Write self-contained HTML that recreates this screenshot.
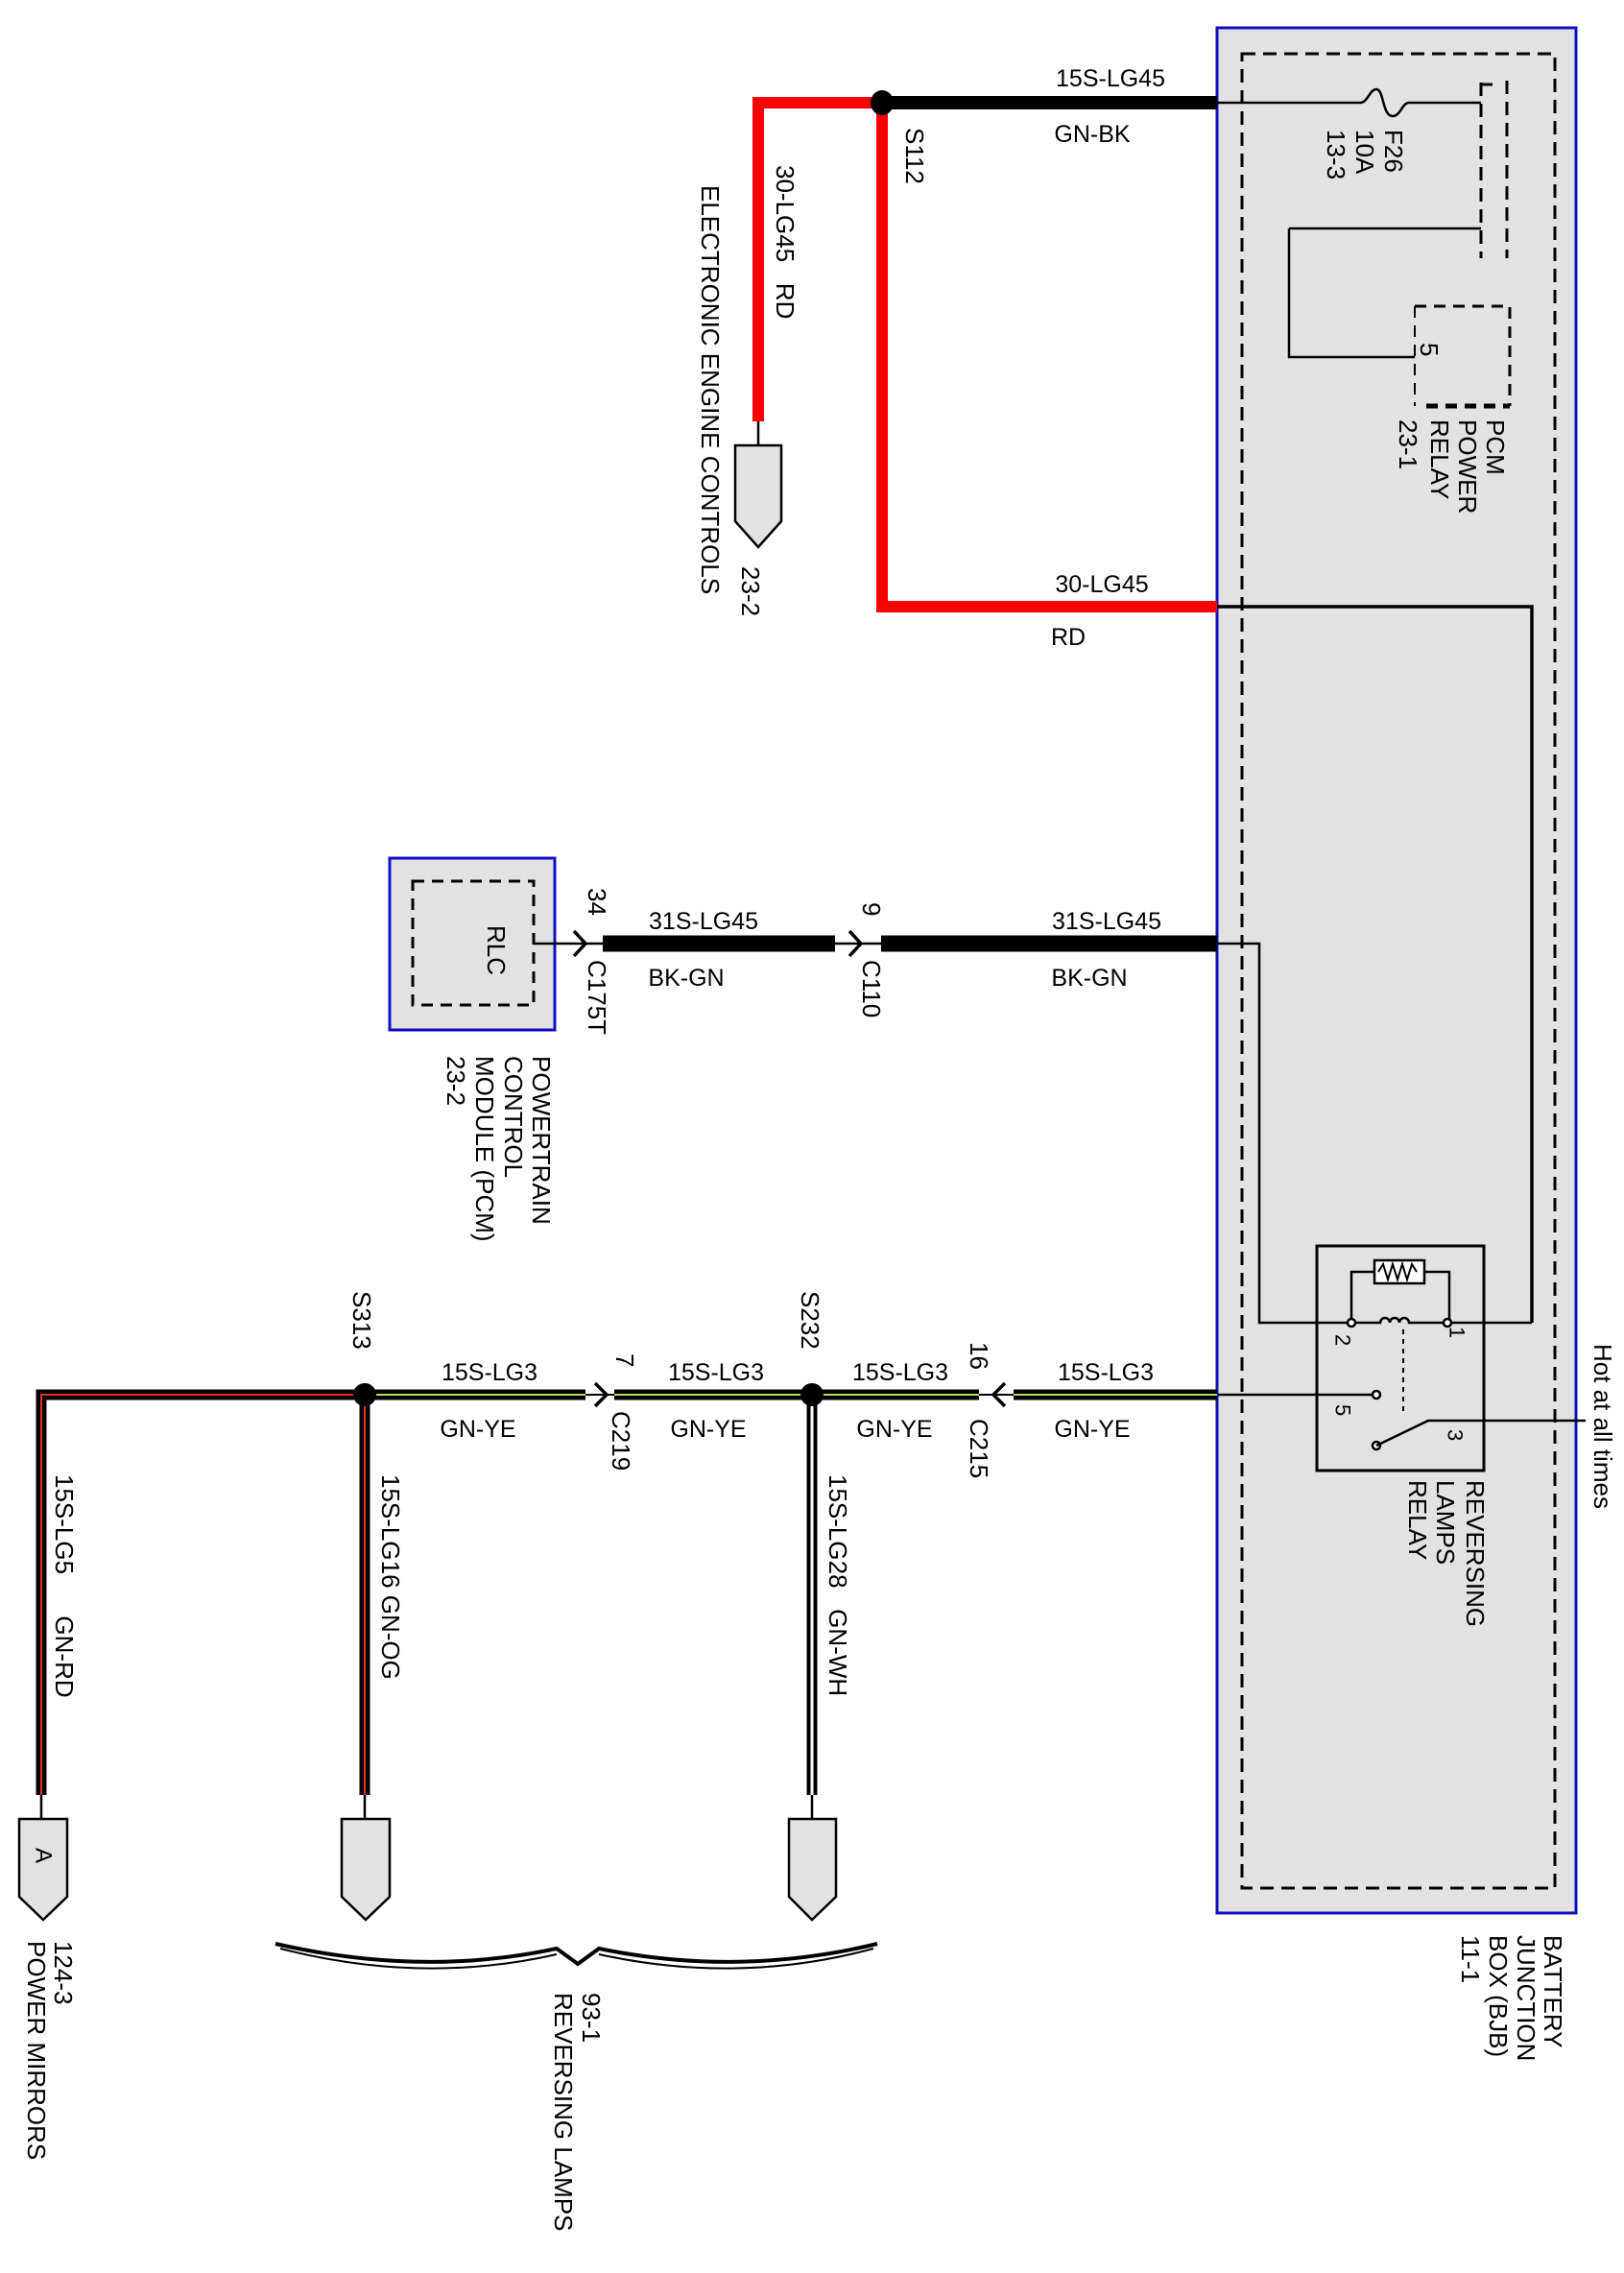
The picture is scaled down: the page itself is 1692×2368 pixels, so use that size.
<!DOCTYPE html>
<html><head><meta charset="utf-8"><style>
html,body{margin:0;padding:0;background:#fff;}
svg{display:block;}
text{font-family:"Liberation Sans",sans-serif;fill:#000;}
.w{font-size:25px;}
.v{font-size:26px;}
</style></head><body>
<svg width="1692" height="2368" viewBox="0 0 1692 2368" xmlns="http://www.w3.org/2000/svg">
<!-- BJB box -->
<rect x="1268" y="29" width="374" height="1964" fill="#e2e2e2" stroke="#1010c0" stroke-width="3"/>
<rect x="1294" y="56" width="326" height="1911" fill="none" stroke="#000" stroke-width="3" stroke-dasharray="14 8"/>

<!-- top wire GN-BK -->
<line x1="928" y1="107" x2="1268" y2="107" stroke="#000" stroke-width="14"/>
<path d="M1268 107 H1417 M1468 107 H1543" stroke="#000" stroke-width="2.5" fill="none"/>
<path d="M1417 107 c8 0 10 -14 17 -14 c8 0 6 28 17 28 c8 0 10 -14 17 -14" stroke="#000" stroke-width="2.5" fill="none"/>
<path d="M1543 86 V269 M1543 88 h12" stroke="#000" stroke-width="3" stroke-dasharray="14 8" fill="none"/>
<line x1="1570" y1="84" x2="1570" y2="269" stroke="#000" stroke-width="3" stroke-dasharray="14 8"/>
<line x1="1543" y1="238" x2="1343" y2="238" stroke="#000" stroke-width="2.5"/>
<path d="M1343 238 V372 H1474" stroke="#000" stroke-width="2.5" fill="none"/>
<!-- PCM power relay dashed -->
<path d="M1474 319 H1573 V423" stroke="#000" stroke-width="3" stroke-dasharray="12 8" fill="none"/>
<path d="M1474 319 V423" stroke="#000" stroke-width="2" stroke-dasharray="12 8" fill="none"/>
<path d="M1486 423 H1573" stroke="#000" stroke-width="5" stroke-dasharray="12 8" fill="none"/>

<!-- red wires -->
<path d="M912 107 H790 V439" stroke="#ff0000" stroke-width="12" fill="none"/>
<path d="M919 118 V632 H1268" stroke="#ff0000" stroke-width="12" fill="none"/>
<line x1="790" y1="439" x2="790" y2="464" stroke="#000" stroke-width="2.5"/>
<path d="M766 464 H814 V543 L790 570 L766 543 Z" fill="#e2e2e2" stroke="#000" stroke-width="2.5"/>
<ellipse cx="919" cy="107" rx="12" ry="13" fill="#000"/>
<path d="M1268 632 H1596 V1378" stroke="#000" stroke-width="3.5" fill="none"/>

<!-- labels top -->
<text class="w" x="1157" y="90" text-anchor="middle">15S-LG45</text>
<text class="w" x="1138" y="148" text-anchor="middle">GN-BK</text>
<text class="w" x="1148" y="617" text-anchor="middle">30-LG45</text>
<text class="w" x="1113" y="672" text-anchor="middle">RD</text>
<text class="v" transform="translate(953,133) rotate(90)" dominant-baseline="central">S112</text>
<text class="v" transform="translate(818,172) rotate(90)" dominant-baseline="central">30-LG45&#160;&#160;&#160;RD</text>
<text class="v" transform="translate(740,193) rotate(90)" dominant-baseline="central">ELECTRONIC ENGINE CONTROLS</text>
<text class="v" transform="translate(782,590) rotate(90)" dominant-baseline="central">23-2</text>
<text class="v" transform="translate(1452,135) rotate(90)" dominant-baseline="central">F26</text>
<text class="v" transform="translate(1422,135) rotate(90)" dominant-baseline="central">10A</text>
<text class="v" transform="translate(1392,135) rotate(90)" dominant-baseline="central">13-3</text>
<text class="v" transform="translate(1489,357) rotate(90)" dominant-baseline="central">5</text>
<text class="v" transform="translate(1558,437) rotate(90)" dominant-baseline="central">PCM</text>
<text class="v" transform="translate(1529,437) rotate(90)" dominant-baseline="central">POWER</text>
<text class="v" transform="translate(1500,437) rotate(90)" dominant-baseline="central">RELAY</text>
<text class="v" transform="translate(1467,437) rotate(90)" dominant-baseline="central">23-1</text>

<!-- PCM module -->
<rect x="406" y="894" width="172" height="179" fill="#e2e2e2" stroke="#1010c0" stroke-width="3"/>
<rect x="430" y="918" width="126" height="129" fill="none" stroke="#000" stroke-width="3" stroke-dasharray="12 8"/>
<text class="v" transform="translate(517,964) rotate(90)" dominant-baseline="central">RLC</text>
<line x1="556" y1="983" x2="628" y2="983" stroke="#000" stroke-width="2.5"/>
<line x1="870" y1="983" x2="918" y2="983" stroke="#000" stroke-width="2.5"/>
<line x1="628" y1="983" x2="870" y2="983" stroke="#000" stroke-width="17"/>
<line x1="918" y1="983" x2="1268" y2="983" stroke="#000" stroke-width="17"/>
<path d="M598 970 L610 983 L598 996" stroke="#000" stroke-width="3.5" fill="none"/>
<path d="M885 970 L897 983 L885 996" stroke="#000" stroke-width="3.5" fill="none"/>
<path d="M1268 983 H1312 V1378 H1408" stroke="#000" stroke-width="2.5" fill="none"/>
<text class="w" x="733" y="968" text-anchor="middle">31S-LG45</text>
<text class="w" x="715" y="1027" text-anchor="middle">BK-GN</text>
<text class="w" x="1153" y="968" text-anchor="middle">31S-LG45</text>
<text class="w" x="1135" y="1027" text-anchor="middle">BK-GN</text>
<text class="v" transform="translate(622,925) rotate(90)" dominant-baseline="central">34</text>
<text class="v" transform="translate(622,1000) rotate(90)" dominant-baseline="central">C175T</text>
<text class="v" transform="translate(908,940) rotate(90)" dominant-baseline="central">9</text>
<text class="v" transform="translate(908,1000) rotate(90)" dominant-baseline="central">C110</text>
<text class="v" transform="translate(564,1100) rotate(90)" dominant-baseline="central">POWERTRAIN</text>
<text class="v" transform="translate(535,1100) rotate(90)" dominant-baseline="central">CONTROL</text>
<text class="v" transform="translate(505,1100) rotate(90)" dominant-baseline="central">MODULE (PCM)</text>
<text class="v" transform="translate(475,1100) rotate(90)" dominant-baseline="central">23-2</text>

<!-- reversing lamps relay -->
<rect x="1372" y="1298" width="174" height="234" fill="none" stroke="#000" stroke-width="3"/>
<path d="M1408 1378 V1325 H1432 M1484 1325 H1510 V1378" stroke="#000" stroke-width="2.5" fill="none"/>
<rect x="1432" y="1313" width="52" height="24" fill="#fff" stroke="#000" stroke-width="2.5"/>
<path d="M1436 1325 l5 -8 l5 16 l5 -16 l5 16 l5 -16 l5 16 l5 -16 l5 8" stroke="#000" stroke-width="2" fill="none"/>
<path d="M1408 1378 H1438 a5 5 0 0 1 10 0 a5 5 0 0 1 10 0 a5 5 0 0 1 10 0 H1510 H1596" stroke="#000" stroke-width="2.5" fill="none"/>
<circle cx="1408" cy="1378" r="4" fill="#fff" stroke="#000" stroke-width="2.5"/>
<circle cx="1508" cy="1378" r="4" fill="#fff" stroke="#000" stroke-width="2.5"/>
<line x1="1462" y1="1385" x2="1462" y2="1470" stroke="#000" stroke-width="2" stroke-dasharray="5 5"/>
<line x1="1269" y1="1453" x2="1430" y2="1453" stroke="#000" stroke-width="2.5"/>
<circle cx="1434" cy="1453" r="4" fill="#fff" stroke="#000" stroke-width="2.5"/>
<circle cx="1434" cy="1506" r="4" fill="#fff" stroke="#000" stroke-width="2.5"/>
<path d="M1434 1506 L1488 1480 H1652" stroke="#000" stroke-width="2.5" fill="none"/>
<text class="v" transform="translate(1518,1382) rotate(90)" dominant-baseline="central" style="font-size:22px">1</text>
<text class="v" transform="translate(1399,1390) rotate(90)" dominant-baseline="central" style="font-size:22px">2</text>
<text class="v" transform="translate(1399,1463) rotate(90)" dominant-baseline="central" style="font-size:22px">5</text>
<text class="v" transform="translate(1516,1489) rotate(90)" dominant-baseline="central" style="font-size:22px">3</text>
<text class="v" transform="translate(1537,1542) rotate(90)" dominant-baseline="central">REVERSING</text>
<text class="v" transform="translate(1506,1542) rotate(90)" dominant-baseline="central">LAMPS</text>
<text class="v" transform="translate(1477,1542) rotate(90)" dominant-baseline="central">RELAY</text>
<text class="v" transform="translate(1670,1400) rotate(90)" dominant-baseline="central">Hot at all times</text>
<text class="v" transform="translate(1618,2016) rotate(90)" dominant-baseline="central">BATTERY</text>
<text class="v" transform="translate(1590,2016) rotate(90)" dominant-baseline="central">JUNCTION</text>
<text class="v" transform="translate(1561,2016) rotate(90)" dominant-baseline="central">BOX (BJB)</text>
<text class="v" transform="translate(1532,2016) rotate(90)" dominant-baseline="central">11-1</text>

<!-- green wire -->
<g fill="none">
<path d="M1056 1453 H1268" stroke="#000" stroke-width="11"/>
<path d="M1056 1453 H1268" stroke="#b6e05a" stroke-width="2"/>
<path d="M852 1453 H1020" stroke="#000" stroke-width="11"/>
<path d="M852 1453 H1020" stroke="#b6e05a" stroke-width="2"/>
<path d="M640 1453 H846" stroke="#000" stroke-width="11"/>
<path d="M640 1453 H846" stroke="#b6e05a" stroke-width="2"/>
<path d="M386 1453 H610" stroke="#000" stroke-width="11"/>
<path d="M386 1453 H610" stroke="#b6e05a" stroke-width="2"/>
<path d="M374 1453 H43 V1870" stroke="#000" stroke-width="11"/>
<path d="M374 1453 H43 V1870" stroke="#e03020" stroke-width="2"/>
<path d="M380 1453 V1870" stroke="#000" stroke-width="11"/>
<path d="M380 1453 V1870" stroke="#e03020" stroke-width="2"/>
<path d="M846 1453 V1870" stroke="#000" stroke-width="11"/>
<path d="M846 1453 V1870" stroke="#fff" stroke-width="3"/>
<line x1="610" y1="1453" x2="640" y2="1453" stroke="#000" stroke-width="2"/>
<line x1="1020" y1="1453" x2="1056" y2="1453" stroke="#000" stroke-width="2"/>
<path d="M620 1441 L632 1453 L620 1465" stroke="#000" stroke-width="3.5"/>
<path d="M1047 1441 L1035 1453 L1047 1465" stroke="#000" stroke-width="3.5"/>
</g>
<circle cx="380" cy="1453" r="12" fill="#000"/>
<circle cx="846" cy="1453" r="12" fill="#000"/>
<path d="M43 1870 V1895 M380 1870 V1895 M846 1870 V1895" stroke="#000" stroke-width="2.5"/>
<path d="M20 1895 H70 V1976 L45 2000 L20 1976 Z" fill="#e2e2e2" stroke="#000" stroke-width="2.5"/>
<path d="M356 1895 H406 V1976 L381 2000 L356 1976 Z" fill="#e2e2e2" stroke="#000" stroke-width="2.5"/>
<path d="M822 1895 H871 V1976 L846 2000 L822 1976 Z" fill="#e2e2e2" stroke="#000" stroke-width="2.5"/>
<text class="v" transform="translate(45,1925) rotate(90)" dominant-baseline="central" style="font-size:24px">A</text>
<!-- brace -->
<path d="M287 2025 Q440 2060 580 2030 L602 2046 L624 2030 Q770 2060 914 2025" stroke="#000" stroke-width="4" fill="none"/>
<path d="M292 2030 Q440 2068 580 2036 M624 2036 Q770 2068 910 2030" stroke="#000" stroke-width="2" fill="none"/>

<text class="w" x="510" y="1438" text-anchor="middle">15S-LG3</text>
<text class="w" x="498" y="1497" text-anchor="middle">GN-YE</text>
<text class="w" x="746" y="1438" text-anchor="middle">15S-LG3</text>
<text class="w" x="738" y="1497" text-anchor="middle">GN-YE</text>
<text class="w" x="938" y="1438" text-anchor="middle">15S-LG3</text>
<text class="w" x="932" y="1497" text-anchor="middle">GN-YE</text>
<text class="w" x="1152" y="1438" text-anchor="middle">15S-LG3</text>
<text class="w" x="1138" y="1497" text-anchor="middle">GN-YE</text>
<text class="v" transform="translate(651,1410) rotate(90)" dominant-baseline="central">7</text>
<text class="v" transform="translate(647,1470) rotate(90)" dominant-baseline="central">C219</text>
<text class="v" transform="translate(1020,1398) rotate(90)" dominant-baseline="central">16</text>
<text class="v" transform="translate(1020,1478) rotate(90)" dominant-baseline="central">C215</text>
<text class="v" transform="translate(377,1345) rotate(90)" dominant-baseline="central">S313</text>
<text class="v" transform="translate(844,1345) rotate(90)" dominant-baseline="central">S232</text>
<text class="v" transform="translate(67,1536) rotate(90)" dominant-baseline="central">15S-LG5&#160;&#160;&#160;&#160;&#160;&#160;GN-RD</text>
<text class="v" transform="translate(407,1536) rotate(90)" dominant-baseline="central">15S-LG16 GN-OG</text>
<text class="v" transform="translate(873,1536) rotate(90)" dominant-baseline="central">15S-LG28&#160;&#160;&#160;GN-WH</text>
<text class="v" transform="translate(66,2022) rotate(90)" dominant-baseline="central">124-3</text>
<text class="v" transform="translate(38,2022) rotate(90)" dominant-baseline="central">POWER MIRRORS</text>
<text class="v" transform="translate(616,2076) rotate(90)" dominant-baseline="central">93-1</text>
<text class="v" transform="translate(587,2076) rotate(90)" dominant-baseline="central">REVERSING LAMPS</text>
</svg>
</body></html>
